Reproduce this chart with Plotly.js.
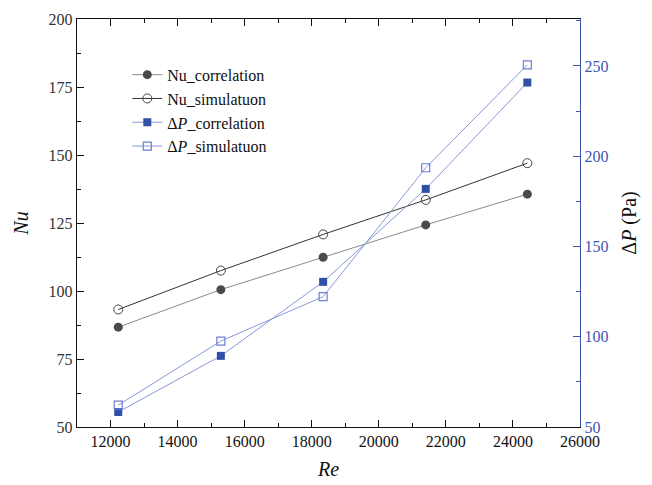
<!DOCTYPE html>
<html>
<head>
<meta charset="utf-8">
<script src="https://cdn.plot.ly/plotly-3.0.1.min.js"></script>
<style>html,body{margin:0;padding:0;background:#fff;}#chart{width:652px;height:485px;}</style>
</head>
<body>
<div id="chart"></div>
<script>
const re = [12230, 15290, 18340, 21400, 24430];
const nuCorrelation = [86.7, 100.5, 112.4, 124.3, 135.6];
const nuSimulation = [93.2, 107.5, 120.8, 133.5, 147.0];
const dpCorrelation = [58.3, 89.4, 130.4, 181.9, 240.8];
const dpSimulation = [62.1, 97.6, 122.2, 193.6, 250.6];
const names = ['Nu_correlation', 'Nu_simulatuon', '\u0394<i>P</i>_correlation', '\u0394<i>P</i>_simulatuon'];

const FONT = 'Liberation Serif';
const BLUE_AX = '#3f55b0';

const traces = [
  {x: re, y: nuCorrelation, name: names[0], type: 'scatter', mode: 'lines+markers',
   line: {color: '#8a8a8a', width: 1}, marker: {symbol: 'circle', size: 9, color: '#4a4a4a'}},
  {x: re, y: nuSimulation, name: names[1], type: 'scatter', mode: 'lines+markers',
   line: {color: '#333333', width: 1}, marker: {symbol: 'circle-open', size: 9, color: '#444444', line: {width: 1}}},
  {x: re, y: dpCorrelation, name: names[2], type: 'scatter', mode: 'lines+markers', yaxis: 'y2',
   line: {color: '#8798d8', width: 1}, marker: {symbol: 'square', size: 8, color: '#3050a8'}},
  {x: re, y: dpSimulation, name: names[3], type: 'scatter', mode: 'lines+markers', yaxis: 'y2',
   line: {color: '#8798d8', width: 1}, marker: {symbol: 'square-open', size: 8, color: '#6a7fd0', line: {width: 1.2}}}
];

const layout = {
  width: 652, height: 485,
  margin: {l: 77, r: 72, t: 19, b: 58},
  paper_bgcolor: '#ffffff', plot_bgcolor: '#ffffff',
  font: {family: FONT, size: 16, color: '#222'},
  showlegend: true,
  legend: {x: 0.1, y: 0.905, xanchor: 'left', yanchor: 'top', bgcolor: 'rgba(0,0,0,0)',
    font: {family: FONT, size: 16, color: '#111'}, tracegroupgap: 0, itemwidth: 30},
  xaxis: {
    range: [11000, 26000], tickvals: [12000, 14000, 16000, 18000, 20000, 22000, 24000, 26000],
    ticktext: ['12000','14000','16000','18000','20000','22000','24000','26000'],
    ticks: 'inside', ticklen: 7, tickwidth: 1, tickcolor: '#111',
    minor: {dtick: 1000, tick0: 11000, ticks: 'inside', ticklen: 4, tickcolor: '#111'},
    showline: true, linecolor: '#111', linewidth: 1.2, mirror: 'ticks', showgrid: false, zeroline: false,
    tickfont: {family: FONT, size: 16, color: '#111'},
    title: {text: '<i>Re</i>', font: {family: FONT, size: 20, color: '#111'}, standoff: 12}
  },
  yaxis: {
    range: [50, 200], tickvals: [50, 75, 100, 125, 150, 175, 200],
    ticks: 'inside', ticklen: 7, tickwidth: 1, tickcolor: '#111',
    minor: {dtick: 12.5, tick0: 50, ticks: 'inside', ticklen: 4, tickcolor: '#111'},
    showline: true, linecolor: '#111', linewidth: 1.2, showgrid: false, zeroline: false,
    tickfont: {family: FONT, size: 16, color: '#333'},
    title: {text: '<i>Nu</i>', font: {family: FONT, size: 20, color: '#111'}, standoff: 14}
  },
  yaxis2: {
    overlaying: 'y', side: 'right', range: [50, 276],
    tickvals: [50, 100, 150, 200, 250],
    ticks: 'inside', ticklen: 7, tickwidth: 1, tickcolor: BLUE_AX,
    minor: {dtick: 25, tick0: 50, ticks: 'inside', ticklen: 4, tickcolor: BLUE_AX},
    showline: true, linecolor: BLUE_AX, linewidth: 1.2, showgrid: false, zeroline: false,
    tickfont: {family: FONT, size: 16, color: BLUE_AX},
    title: {text: '\u0394<i>P</i> (Pa)', font: {family: FONT, size: 20, color: '#111'}, standoff: 14}
  }
};

Plotly.newPlot('chart', traces, layout, {displayModeBar: false, staticPlot: true});
</script>
</body>
</html>
